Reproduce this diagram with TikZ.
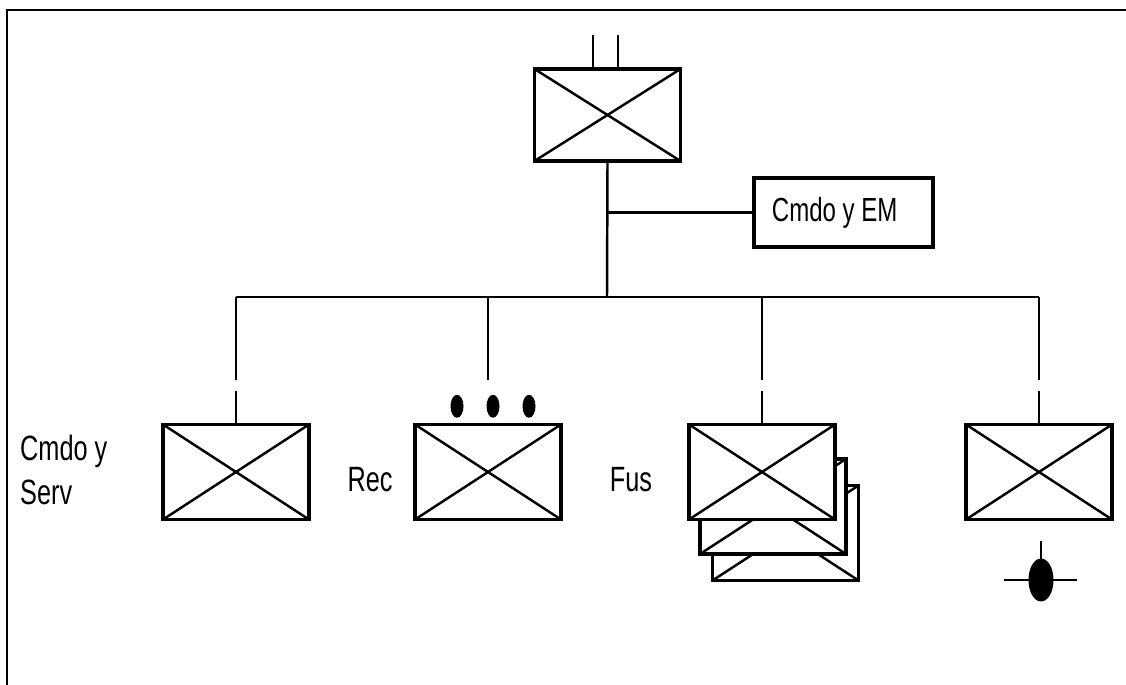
\documentclass[tikz,border=0pt]{standalone}
\usepackage{fontspec}
\setmainfont{Liberation Sans}
\newfontfamily\narrowfont[FakeStretch=0.72]{Liberation Sans}
\usetikzlibrary{positioning, calc}

\begin{document}
\begin{tikzpicture}[x=0.02cm, y=-0.02cm,
    unitbox/.style={draw, line width=2pt, fill=white, minimum width=2.92cm, minimum height=1.9cm, inner sep=0pt,
        path picture={\draw[line width=1.4pt] (path picture bounding box.north west) -- (path picture bounding box.south east)
            (path picture bounding box.north east) -- (path picture bounding box.south west);}},
    link/.style={line width=1.4pt},
    lbl/.style={font=\narrowfont\fontsize{20}{25}\selectfont}]
    \useasboundingbox (0,0) rectangle (1126,685);

    % Frame
    \draw[line width=1.2pt] (7,685) -- (7,10) -- (1126,10);

    % Headquarters
    \node[unitbox, minimum height=1.84cm] (hq) at (607.5,115) {};
    \draw[link] ($(hq.north)+(-14.5,0)$) -- ++(0,-32);
    \draw[link] ($(hq.north)+(10.5,0)$) -- ++(0,-32);

    % Staff
    \node[draw, line width=2pt, minimum width=3.58cm, minimum height=1.38cm, lbl, font=\narrowfont\fontsize{19}{23}\selectfont] (em) at (843.5,212.5) {\hspace*{-10pt}Cmdo y EM};

    % Subordinate units
    \node[unitbox] (cs) at (236,472) {};
    \node[unitbox] (rec) at (488,472) {};
    \node[unitbox] (fus3) at (785.5,533) {};
    \node[unitbox] (fus2) at (773,506.5) {};
    \node[unitbox] (fus) at (762,472) {};
    \node[unitbox] (sup) at (1039,472) {};

    % Trunk and bus
    \coordinate (junction) at (607,297);
    \draw[link] (hq.south) -- (junction);
    \draw[link] (hq.south |- em.west) -- (em.west);
    \draw[link] (cs.north |- junction) -- (sup.north |- junction);
    \foreach \unit in {cs, rec, fus, sup}
        \draw[link] (\unit.north |- junction) -- ++(0,83);
    \foreach \unit in {cs, fus, sup}
        \draw[link] (\unit.north) -- ++(0,-32);

    % Size marks
    \foreach \dx in {-31,5,41}
        \fill ($(rec.north)+(\dx,-16.5)$) ellipse [x radius=6.5, y radius=11.5];

    % Support symbol
    \coordinate (sym) at (1041,580);
    \draw[link] ($(sup.south)+(2,20)$) -- (sym);
    \fill (sym) ellipse [x radius=12.5, y radius=21.5];
    \draw[link] ($(sym)+(-37,0)$) -- ($(sym)+(36,0)$);

    % Labels
    \node[lbl, anchor=west, align=left] (cs-lbl) at (14,470) {Cmdo y\\Serv};
    \node[lbl] (rec-lbl) at (370,480) {Rec};
    \node[lbl] (fus-lbl) at (631,480) {Fus};

\end{tikzpicture}
\end{document}
